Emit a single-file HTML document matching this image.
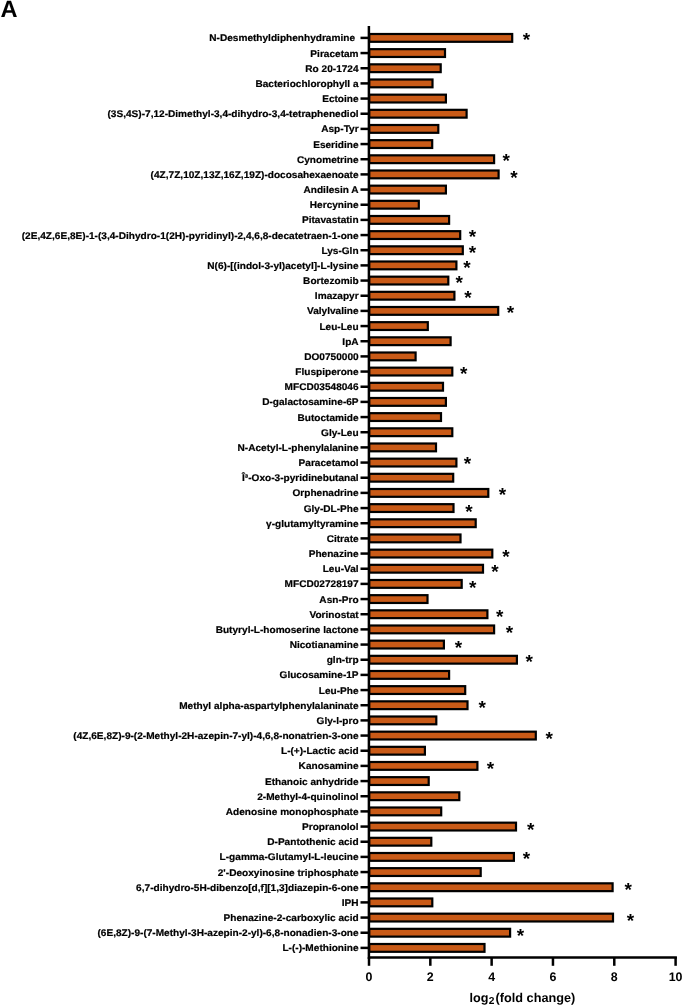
<!DOCTYPE html>
<html><head><meta charset="utf-8"><title>Figure A</title>
<style>
html,body{margin:0;padding:0;background:#fff;}
body{width:685px;height:1006px;overflow:hidden;}
svg{display:block;}
text{font-family:"Liberation Sans",Arial,Helvetica,sans-serif;font-weight:bold;fill:#000;text-rendering:geometricPrecision;}
.lb{font-size:9.7px;text-anchor:end;stroke:#000;stroke-width:0.2px;}
.st{font-size:19px;text-anchor:middle;}
.tk{font-size:12.4px;text-anchor:middle;}
.bar{fill:#c95a17;stroke:#000;stroke-width:2.2;}
</style></head><body>
<svg width="685" height="1006" viewBox="0 0 685 1006">
<rect width="685" height="1006" fill="#fff"/>
<text x="0.4" y="16.8" style="font-size:23.6px">A</text>

<rect class="bar" x="369.20" y="34.00" width="143.00" height="7.80"/>
<line x1="360.5" x2="369.2" y1="37.90" y2="37.90" stroke="#000" stroke-width="2.5"/>
<text class="lb" transform="translate(355.0 41.45) scale(1.0412 1)">N-Desmethyldiphenhydramine</text>
<text class="st" x="526.4" y="46.30">*</text>
<rect class="bar" x="369.20" y="49.17" width="75.80" height="7.80"/>
<line x1="360.5" x2="369.2" y1="53.07" y2="53.07" stroke="#000" stroke-width="2.5"/>
<text class="lb" transform="translate(358.6 56.62) scale(1.0412 1)">Piracetam</text>
<rect class="bar" x="369.20" y="64.33" width="71.50" height="7.80"/>
<line x1="360.5" x2="369.2" y1="68.23" y2="68.23" stroke="#000" stroke-width="2.5"/>
<text class="lb" transform="translate(358.6 71.78) scale(1.0412 1)">Ro 20-1724</text>
<rect class="bar" x="369.20" y="79.50" width="63.30" height="7.80"/>
<line x1="360.5" x2="369.2" y1="83.40" y2="83.40" stroke="#000" stroke-width="2.5"/>
<text class="lb" transform="translate(358.6 86.95) scale(1.0412 1)">Bacteriochlorophyll a</text>
<rect class="bar" x="369.20" y="94.67" width="76.70" height="7.80"/>
<line x1="360.5" x2="369.2" y1="98.57" y2="98.57" stroke="#000" stroke-width="2.5"/>
<text class="lb" transform="translate(358.6 102.12) scale(1.0412 1)">Ectoine</text>
<rect class="bar" x="369.20" y="109.83" width="97.40" height="7.80"/>
<line x1="360.5" x2="369.2" y1="113.73" y2="113.73" stroke="#000" stroke-width="2.5"/>
<text class="lb" transform="translate(358.6 117.28) scale(1.0412 1)">(3S,4S)-7,12-Dimethyl-3,4-dihydro-3,4-tetraphenediol</text>
<rect class="bar" x="369.20" y="125.00" width="69.10" height="7.80"/>
<line x1="360.5" x2="369.2" y1="128.90" y2="128.90" stroke="#000" stroke-width="2.5"/>
<text class="lb" transform="translate(358.6 132.45) scale(1.0412 1)">Asp-Tyr</text>
<rect class="bar" x="369.20" y="140.17" width="63.00" height="7.80"/>
<line x1="360.5" x2="369.2" y1="144.07" y2="144.07" stroke="#000" stroke-width="2.5"/>
<text class="lb" transform="translate(358.6 147.62) scale(1.0412 1)">Eseridine</text>
<rect class="bar" x="369.20" y="155.33" width="124.90" height="7.80"/>
<line x1="360.5" x2="369.2" y1="159.23" y2="159.23" stroke="#000" stroke-width="2.5"/>
<text class="lb" transform="translate(358.6 162.78) scale(1.0412 1)">Cynometrine</text>
<text class="st" x="506.3" y="166.73">*</text>
<rect class="bar" x="369.20" y="170.50" width="129.40" height="7.80"/>
<line x1="360.5" x2="369.2" y1="174.40" y2="174.40" stroke="#000" stroke-width="2.5"/>
<text class="lb" transform="translate(358.6 177.95) scale(1.0412 1)">(4Z,7Z,10Z,13Z,16Z,19Z)-docosahexaenoate</text>
<text class="st" x="513.9" y="184.30">*</text>
<rect class="bar" x="369.20" y="185.67" width="76.70" height="7.80"/>
<line x1="360.5" x2="369.2" y1="189.57" y2="189.57" stroke="#000" stroke-width="2.5"/>
<text class="lb" transform="translate(358.6 193.12) scale(1.0412 1)">Andilesin A</text>
<rect class="bar" x="369.20" y="200.83" width="49.60" height="7.80"/>
<line x1="360.5" x2="369.2" y1="204.73" y2="204.73" stroke="#000" stroke-width="2.5"/>
<text class="lb" transform="translate(358.6 208.28) scale(1.0412 1)">Hercynine</text>
<rect class="bar" x="369.20" y="216.00" width="79.90" height="7.80"/>
<line x1="360.5" x2="369.2" y1="219.90" y2="219.90" stroke="#000" stroke-width="2.5"/>
<text class="lb" transform="translate(358.6 223.45) scale(1.0412 1)">Pitavastatin</text>
<rect class="bar" x="369.20" y="231.17" width="91.00" height="7.80"/>
<line x1="360.5" x2="369.2" y1="235.07" y2="235.07" stroke="#000" stroke-width="2.5"/>
<text class="lb" transform="translate(358.6 238.62) scale(1.0412 1)">(2E,4Z,6E,8E)-1-(3,4-Dihydro-1(2H)-pyridinyl)-2,4,6,8-decatetraen-1-one</text>
<text class="st" x="472.4" y="243.47">*</text>
<rect class="bar" x="369.20" y="246.33" width="93.60" height="7.80"/>
<line x1="360.5" x2="369.2" y1="250.23" y2="250.23" stroke="#000" stroke-width="2.5"/>
<text class="lb" transform="translate(358.6 253.78) scale(1.0412 1)">Lys-Gln</text>
<text class="st" x="472.4" y="258.63">*</text>
<rect class="bar" x="369.20" y="261.50" width="87.20" height="7.80"/>
<line x1="360.5" x2="369.2" y1="265.40" y2="265.40" stroke="#000" stroke-width="2.5"/>
<text class="lb" transform="translate(358.6 268.95) scale(1.0412 1)">N(6)-[(indol-3-yl)acetyl]-L-lysine</text>
<text class="st" x="466.9" y="274.40">*</text>
<rect class="bar" x="369.20" y="276.67" width="79.10" height="7.80"/>
<line x1="360.5" x2="369.2" y1="280.57" y2="280.57" stroke="#000" stroke-width="2.5"/>
<text class="lb" transform="translate(358.6 284.12) scale(1.0412 1)">Bortezomib</text>
<text class="st" x="459.3" y="288.97">*</text>
<rect class="bar" x="369.20" y="291.83" width="85.20" height="7.80"/>
<line x1="360.5" x2="369.2" y1="295.73" y2="295.73" stroke="#000" stroke-width="2.5"/>
<text class="lb" transform="translate(358.6 299.28) scale(1.0412 1)">Imazapyr</text>
<text class="st" x="468.0" y="304.13">*</text>
<rect class="bar" x="369.20" y="307.00" width="129.00" height="7.80"/>
<line x1="360.5" x2="369.2" y1="310.90" y2="310.90" stroke="#000" stroke-width="2.5"/>
<text class="lb" transform="translate(358.6 314.45) scale(1.0412 1)">Valylvaline</text>
<text class="st" x="510.4" y="319.30">*</text>
<rect class="bar" x="369.20" y="322.17" width="58.60" height="7.80"/>
<line x1="360.5" x2="369.2" y1="326.07" y2="326.07" stroke="#000" stroke-width="2.5"/>
<text class="lb" transform="translate(358.6 329.62) scale(1.0412 1)">Leu-Leu</text>
<rect class="bar" x="369.20" y="337.33" width="81.40" height="7.80"/>
<line x1="360.5" x2="369.2" y1="341.23" y2="341.23" stroke="#000" stroke-width="2.5"/>
<text class="lb" transform="translate(358.6 344.78) scale(1.0412 1)">IpA</text>
<rect class="bar" x="369.20" y="352.50" width="46.40" height="7.80"/>
<line x1="360.5" x2="369.2" y1="356.40" y2="356.40" stroke="#000" stroke-width="2.5"/>
<text class="lb" transform="translate(358.6 359.95) scale(1.0412 1)">DO0750000</text>
<rect class="bar" x="369.20" y="367.67" width="83.10" height="7.80"/>
<line x1="360.5" x2="369.2" y1="371.57" y2="371.57" stroke="#000" stroke-width="2.5"/>
<text class="lb" transform="translate(358.6 375.12) scale(1.0412 1)">Fluspiperone</text>
<text class="st" x="463.6" y="379.97">*</text>
<rect class="bar" x="369.20" y="382.83" width="73.80" height="7.80"/>
<line x1="360.5" x2="369.2" y1="386.73" y2="386.73" stroke="#000" stroke-width="2.5"/>
<text class="lb" transform="translate(358.6 390.28) scale(1.0412 1)">MFCD03548046</text>
<rect class="bar" x="369.20" y="398.00" width="76.70" height="7.80"/>
<line x1="360.5" x2="369.2" y1="401.90" y2="401.90" stroke="#000" stroke-width="2.5"/>
<text class="lb" transform="translate(358.6 405.45) scale(1.0412 1)">D-galactosamine-6P</text>
<rect class="bar" x="369.20" y="413.17" width="71.80" height="7.80"/>
<line x1="360.5" x2="369.2" y1="417.07" y2="417.07" stroke="#000" stroke-width="2.5"/>
<text class="lb" transform="translate(358.6 420.62) scale(1.0412 1)">Butoctamide</text>
<rect class="bar" x="369.20" y="428.33" width="83.10" height="7.80"/>
<line x1="360.5" x2="369.2" y1="432.23" y2="432.23" stroke="#000" stroke-width="2.5"/>
<text class="lb" transform="translate(358.6 435.78) scale(1.0412 1)">Gly-Leu</text>
<rect class="bar" x="369.20" y="443.50" width="66.80" height="7.80"/>
<line x1="360.5" x2="369.2" y1="447.40" y2="447.40" stroke="#000" stroke-width="2.5"/>
<text class="lb" transform="translate(358.6 450.95) scale(1.0412 1)">N-Acetyl-L-phenylalanine</text>
<rect class="bar" x="369.20" y="458.67" width="87.20" height="7.80"/>
<line x1="360.5" x2="369.2" y1="462.57" y2="462.57" stroke="#000" stroke-width="2.5"/>
<text class="lb" transform="translate(358.6 466.12) scale(1.0412 1)">Paracetamol</text>
<text class="st" x="467.4" y="470.07">*</text>
<rect class="bar" x="369.20" y="473.83" width="84.00" height="7.80"/>
<line x1="360.5" x2="369.2" y1="477.73" y2="477.73" stroke="#000" stroke-width="2.5"/>
<text class="lb" transform="translate(358.6 481.28) scale(1.0412 1)">Î³-Oxo-3-pyridinebutanal</text>
<rect class="bar" x="369.20" y="489.00" width="119.10" height="7.80"/>
<line x1="360.5" x2="369.2" y1="492.90" y2="492.90" stroke="#000" stroke-width="2.5"/>
<text class="lb" transform="translate(358.6 496.45) scale(1.0412 1)">Orphenadrine</text>
<text class="st" x="502.5" y="501.30">*</text>
<rect class="bar" x="369.20" y="504.17" width="84.30" height="7.80"/>
<line x1="360.5" x2="369.2" y1="508.07" y2="508.07" stroke="#000" stroke-width="2.5"/>
<text class="lb" transform="translate(358.6 511.62) scale(1.0412 1)">Gly-DL-Phe</text>
<text class="st" x="468.9" y="517.97">*</text>
<rect class="bar" x="369.20" y="519.33" width="106.50" height="7.80"/>
<line x1="360.5" x2="369.2" y1="523.23" y2="523.23" stroke="#000" stroke-width="2.5"/>
<text class="lb" transform="translate(358.6 526.78) scale(1.0412 1)">γ-glutamyltyramine</text>
<rect class="bar" x="369.20" y="534.50" width="91.30" height="7.80"/>
<line x1="360.5" x2="369.2" y1="538.40" y2="538.40" stroke="#000" stroke-width="2.5"/>
<text class="lb" transform="translate(358.6 541.95) scale(1.0412 1)">Citrate</text>
<rect class="bar" x="369.20" y="549.67" width="123.10" height="7.80"/>
<line x1="360.5" x2="369.2" y1="553.57" y2="553.57" stroke="#000" stroke-width="2.5"/>
<text class="lb" transform="translate(358.6 557.12) scale(1.0412 1)">Phenazine</text>
<text class="st" x="506.0" y="562.57">*</text>
<rect class="bar" x="369.20" y="564.83" width="113.80" height="7.80"/>
<line x1="360.5" x2="369.2" y1="568.73" y2="568.73" stroke="#000" stroke-width="2.5"/>
<text class="lb" transform="translate(358.6 572.28) scale(1.0412 1)">Leu-Val</text>
<text class="st" x="494.9" y="578.03">*</text>
<rect class="bar" x="369.20" y="580.00" width="92.50" height="7.80"/>
<line x1="360.5" x2="369.2" y1="583.90" y2="583.90" stroke="#000" stroke-width="2.5"/>
<text class="lb" transform="translate(358.6 587.45) scale(1.0412 1)">MFCD02728197</text>
<text class="st" x="472.7" y="593.50">*</text>
<rect class="bar" x="369.20" y="595.17" width="58.30" height="7.80"/>
<line x1="360.5" x2="369.2" y1="599.07" y2="599.07" stroke="#000" stroke-width="2.5"/>
<text class="lb" transform="translate(358.6 602.62) scale(1.0412 1)">Asn-Pro</text>
<rect class="bar" x="369.20" y="610.33" width="118.20" height="7.80"/>
<line x1="360.5" x2="369.2" y1="614.23" y2="614.23" stroke="#000" stroke-width="2.5"/>
<text class="lb" transform="translate(358.6 617.78) scale(1.0412 1)">Vorinostat</text>
<text class="st" x="499.6" y="623.23">*</text>
<rect class="bar" x="369.20" y="625.50" width="124.90" height="7.80"/>
<line x1="360.5" x2="369.2" y1="629.40" y2="629.40" stroke="#000" stroke-width="2.5"/>
<text class="lb" transform="translate(358.6 632.95) scale(1.0412 1)">Butyryl-L-homoserine lactone</text>
<text class="st" x="509.5" y="638.70">*</text>
<rect class="bar" x="369.20" y="640.67" width="74.70" height="7.80"/>
<line x1="360.5" x2="369.2" y1="644.57" y2="644.57" stroke="#000" stroke-width="2.5"/>
<text class="lb" transform="translate(358.6 648.12) scale(1.0412 1)">Nicotianamine</text>
<text class="st" x="458.4" y="653.87">*</text>
<rect class="bar" x="369.20" y="655.83" width="147.70" height="7.80"/>
<line x1="360.5" x2="369.2" y1="659.73" y2="659.73" stroke="#000" stroke-width="2.5"/>
<text class="lb" transform="translate(358.6 663.28) scale(1.0412 1)">gln-trp</text>
<text class="st" x="529.3" y="668.13">*</text>
<rect class="bar" x="369.20" y="671.00" width="79.90" height="7.80"/>
<line x1="360.5" x2="369.2" y1="674.90" y2="674.90" stroke="#000" stroke-width="2.5"/>
<text class="lb" transform="translate(358.6 678.45) scale(1.0412 1)">Glucosamine-1P</text>
<rect class="bar" x="369.20" y="686.17" width="96.00" height="7.80"/>
<line x1="360.5" x2="369.2" y1="690.07" y2="690.07" stroke="#000" stroke-width="2.5"/>
<text class="lb" transform="translate(358.6 693.62) scale(1.0412 1)">Leu-Phe</text>
<rect class="bar" x="369.20" y="701.33" width="98.30" height="7.80"/>
<line x1="360.5" x2="369.2" y1="705.23" y2="705.23" stroke="#000" stroke-width="2.5"/>
<text class="lb" transform="translate(358.6 708.78) scale(1.0412 1)">Methyl alpha-aspartylphenylalaninate</text>
<text class="st" x="482.3" y="713.63">*</text>
<rect class="bar" x="369.20" y="716.50" width="67.10" height="7.80"/>
<line x1="360.5" x2="369.2" y1="720.40" y2="720.40" stroke="#000" stroke-width="2.5"/>
<text class="lb" transform="translate(358.6 723.95) scale(1.0412 1)">Gly-l-pro</text>
<rect class="bar" x="369.20" y="731.67" width="166.60" height="7.80"/>
<line x1="360.5" x2="369.2" y1="735.57" y2="735.57" stroke="#000" stroke-width="2.5"/>
<text class="lb" transform="translate(358.6 739.12) scale(1.0412 1)">(4Z,6E,8Z)-9-(2-Methyl-2H-azepin-7-yl)-4,6,8-nonatrien-3-one</text>
<text class="st" x="549.2" y="745.17">*</text>
<rect class="bar" x="369.20" y="746.83" width="55.70" height="7.80"/>
<line x1="360.5" x2="369.2" y1="750.73" y2="750.73" stroke="#000" stroke-width="2.5"/>
<text class="lb" transform="translate(358.6 754.28) scale(1.0412 1)">L-(+)-Lactic acid</text>
<rect class="bar" x="369.20" y="762.00" width="108.20" height="7.80"/>
<line x1="360.5" x2="369.2" y1="765.90" y2="765.90" stroke="#000" stroke-width="2.5"/>
<text class="lb" transform="translate(358.6 769.45) scale(1.0412 1)">Kanosamine</text>
<text class="st" x="490.5" y="774.70">*</text>
<rect class="bar" x="369.20" y="777.17" width="59.50" height="7.80"/>
<line x1="360.5" x2="369.2" y1="781.07" y2="781.07" stroke="#000" stroke-width="2.5"/>
<text class="lb" transform="translate(358.6 784.62) scale(1.0412 1)">Ethanoic anhydride</text>
<rect class="bar" x="369.20" y="792.33" width="90.10" height="7.80"/>
<line x1="360.5" x2="369.2" y1="796.23" y2="796.23" stroke="#000" stroke-width="2.5"/>
<text class="lb" transform="translate(358.6 799.78) scale(1.0412 1)">2-Methyl-4-quinolinol</text>
<rect class="bar" x="369.20" y="807.50" width="72.00" height="7.80"/>
<line x1="360.5" x2="369.2" y1="811.40" y2="811.40" stroke="#000" stroke-width="2.5"/>
<text class="lb" transform="translate(358.6 814.95) scale(1.0412 1)">Adenosine monophosphate</text>
<rect class="bar" x="369.20" y="822.67" width="146.80" height="7.80"/>
<line x1="360.5" x2="369.2" y1="826.57" y2="826.57" stroke="#000" stroke-width="2.5"/>
<text class="lb" transform="translate(358.6 830.12) scale(1.0412 1)">Propranolol</text>
<text class="st" x="530.8" y="836.47">*</text>
<rect class="bar" x="369.20" y="837.83" width="62.10" height="7.80"/>
<line x1="360.5" x2="369.2" y1="841.73" y2="841.73" stroke="#000" stroke-width="2.5"/>
<text class="lb" transform="translate(358.6 845.28) scale(1.0412 1)">D-Pantothenic acid</text>
<rect class="bar" x="369.20" y="853.00" width="144.70" height="7.80"/>
<line x1="360.5" x2="369.2" y1="856.90" y2="856.90" stroke="#000" stroke-width="2.5"/>
<text class="lb" transform="translate(358.6 860.45) scale(1.0412 1)">L-gamma-Glutamyl-L-leucine</text>
<text class="st" x="526.4" y="865.30">*</text>
<rect class="bar" x="369.20" y="868.17" width="111.50" height="7.80"/>
<line x1="360.5" x2="369.2" y1="872.07" y2="872.07" stroke="#000" stroke-width="2.5"/>
<text class="lb" transform="translate(358.6 875.62) scale(1.0412 1)">2&#x27;-Deoxyinosine triphosphate</text>
<rect class="bar" x="369.20" y="883.33" width="243.40" height="7.80"/>
<line x1="360.5" x2="369.2" y1="887.23" y2="887.23" stroke="#000" stroke-width="2.5"/>
<text class="lb" transform="translate(358.6 890.78) scale(1.0412 1)">6,7-dihydro-5H-dibenzo[d,f][1,3]diazepin-6-one</text>
<text class="st" x="628.1" y="895.63">*</text>
<rect class="bar" x="369.20" y="898.50" width="63.10" height="7.80"/>
<line x1="360.5" x2="369.2" y1="902.40" y2="902.40" stroke="#000" stroke-width="2.5"/>
<text class="lb" transform="translate(358.6 905.95) scale(1.0412 1)">IPH</text>
<rect class="bar" x="369.20" y="913.67" width="243.80" height="7.80"/>
<line x1="360.5" x2="369.2" y1="917.57" y2="917.57" stroke="#000" stroke-width="2.5"/>
<text class="lb" transform="translate(358.6 921.12) scale(1.0412 1)">Phenazine-2-carboxylic acid</text>
<text class="st" x="630.4" y="926.87">*</text>
<rect class="bar" x="369.20" y="928.83" width="140.90" height="7.80"/>
<line x1="360.5" x2="369.2" y1="932.73" y2="932.73" stroke="#000" stroke-width="2.5"/>
<text class="lb" transform="translate(358.6 936.28) scale(1.0412 1)">(6E,8Z)-9-(7-Methyl-3H-azepin-2-yl)-6,8-nonadien-3-one</text>
<text class="st" x="520.4" y="941.63">*</text>
<rect class="bar" x="369.20" y="944.00" width="115.30" height="7.80"/>
<line x1="360.5" x2="369.2" y1="947.90" y2="947.90" stroke="#000" stroke-width="2.5"/>
<text class="lb" transform="translate(358.6 951.45) scale(1.0412 1)">L-(-)-Methionine</text>
<line x1="368.9" x2="368.9" y1="26" y2="958.9" stroke="#000" stroke-width="2.5"/>
<line x1="368.1" x2="676.9" y1="957.45" y2="957.45" stroke="#000" stroke-width="2.5"/>
<line x1="369.00" x2="369.00" y1="957" y2="965.8" stroke="#000" stroke-width="2.5"/>
<text class="tk" x="369.00" y="980.5">0</text>
<line x1="430.32" x2="430.32" y1="957" y2="965.8" stroke="#000" stroke-width="2.5"/>
<text class="tk" x="430.32" y="980.5">2</text>
<line x1="491.64" x2="491.64" y1="957" y2="965.8" stroke="#000" stroke-width="2.5"/>
<text class="tk" x="491.64" y="980.5">4</text>
<line x1="552.96" x2="552.96" y1="957" y2="965.8" stroke="#000" stroke-width="2.5"/>
<text class="tk" x="552.96" y="980.5">6</text>
<line x1="614.28" x2="614.28" y1="957" y2="965.8" stroke="#000" stroke-width="2.5"/>
<text class="tk" x="614.28" y="980.5">8</text>
<line x1="675.60" x2="675.60" y1="957" y2="965.8" stroke="#000" stroke-width="2.5"/>
<text class="tk" x="675.60" y="980.5">10</text>
<text x="469.5" y="1001.6" style="font-size:12.6px">log<tspan dx="0.3" dy="2.7" style="font-size:10.2px">2</tspan> <tspan x="495.6" dy="-2.7" style="font-size:12.7px">(fold change)</tspan></text>
</svg></body></html>
